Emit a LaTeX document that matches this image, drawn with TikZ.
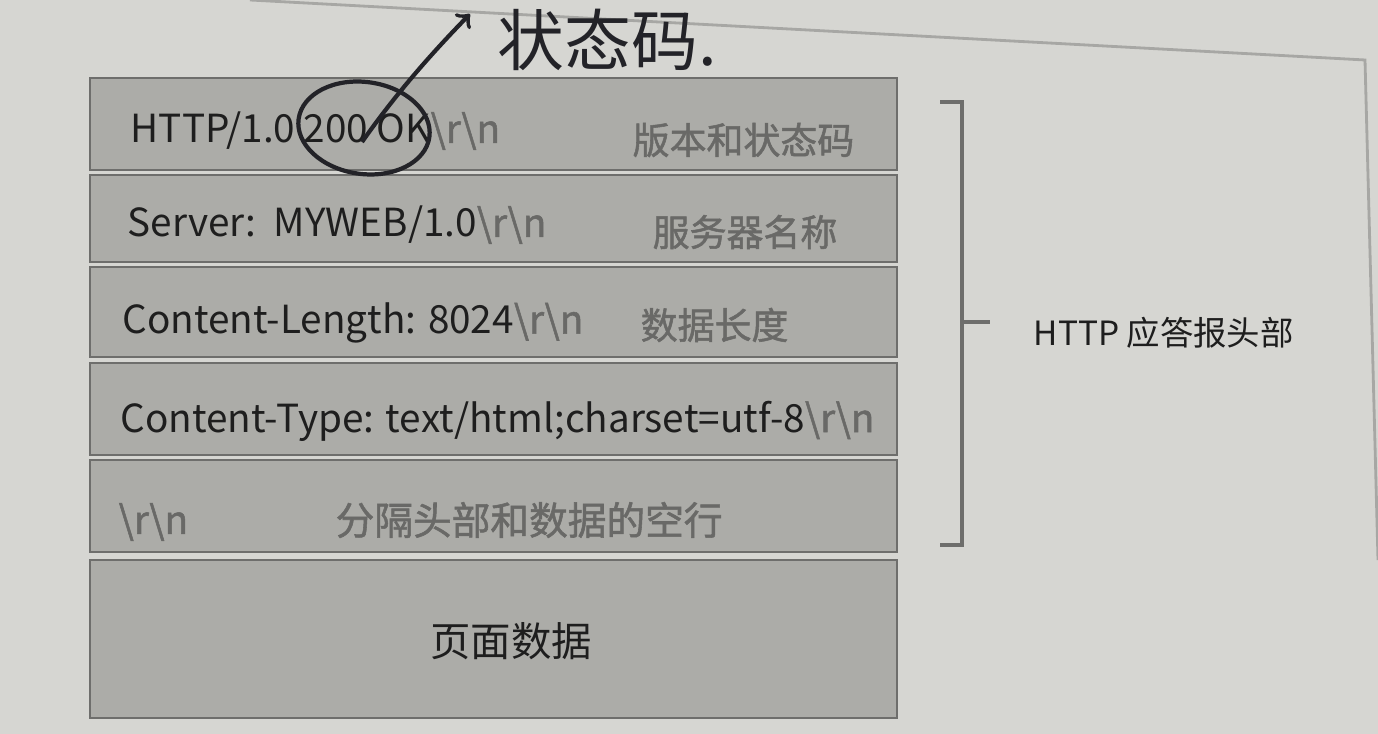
\documentclass[tikz,border=0pt]{standalone}
\usepackage{fontspec}
\setmainfont{Noto Sans CJK SC}
\newfontfamily\notefont[FakeBold=1.4]{Noto Sans CJK SC}
\usepackage{tikz}

\definecolor{paper}{RGB}{214,214,210}
\definecolor{boxfill}{RGB}{172,172,168}
\definecolor{boxline}{RGB}{110,110,108}
\definecolor{softtext}{RGB}{105,105,103}
\definecolor{inktext}{RGB}{30,30,30}
\definecolor{pen}{RGB}{35,35,40}

\newcommand{\crlf}{{\notefont\textcolor{softtext}{\textbackslash r\textbackslash n}}}

\tikzset{
  rowbox/.style={draw=boxline, fill=boxfill, line width=0.6pt, minimum width=8.07cm, inner sep=0pt},
  linetext/.style={anchor=west, inner sep=0pt, text=inktext, font=\fontsize{11}{13}\selectfont},
  notetext/.style={anchor=west, inner sep=0pt, text=softtext, font=\notefont\fontsize{10.5}{13}\selectfont},
  handnote/.style={inner sep=0pt, text=pen, font=\fontsize{19}{22}\selectfont},
}

\begin{document}
\begin{tikzpicture}[x=0.01cm, y=-0.01cm]
  \useasboundingbox[fill=paper] (0,0) rectangle (1378,734);
  % edge of the page
  \draw[boxline!45!paper, line width=0.8pt] (250,0) -- (1365,60) -- (1378,560);

  % the six rows of the answer
  \node[rowbox, minimum height=0.92cm] (status) at (493.5,124) {};
  \node[rowbox, minimum height=0.87cm] (server) at (493.5,218.5) {};
  \node[rowbox, minimum height=0.90cm] (length) at (493.5,312) {};
  \node[rowbox, minimum height=0.92cm] (ctype) at (493.5,409) {};
  \node[rowbox, minimum height=0.92cm] (blank) at (493.5,506) {};
  \node[rowbox, minimum height=1.58cm] (body) at (493.5,639) {};

  \node[linetext] (statusline) at (130,131) {HTTP/1.0 200 OK\crlf};
  \node[notetext] (statusnote) at (632,140) {版本和状态码};
  \node[linetext] (serverline) at (127,225) {Server:\ \ MYWEB/1.0\crlf};
  \node[notetext] (servernote) at (652,232) {服务器名称};
  \node[linetext] (lengthline) at (122,323) {Content-Length: 8024\crlf};
  \node[notetext] (lengthnote) at (640,325) {数据长度};
  \node[linetext] (ctypeline) at (120,421) {Content-Type: text/html;charset=utf-8\crlf};
  \node[linetext] (blankline) at (118,522) {\crlf};
  \node[notetext, font=\notefont\fontsize{11}{13}\selectfont] (blanknote) at (335,520) {分隔头部和数据的空行};
  \node[linetext, anchor=center, font=\fontsize{11.5}{13}\selectfont] (bodyline) at (511,641) {页面数据};

  % bracket over the header rows
  \coordinate (brtop) at (940,102);
  \coordinate (brbot) at (940,545);
  \coordinate (brmid) at (962,322);
  \draw[boxline, line width=1pt] (brtop) -- (962,102) -- (962,545) -- (brbot);
  \draw[boxline, line width=1pt] (brmid) -- (990,322);
  \node[linetext, font=\fontsize{9.5}{12}\selectfont] (headlabel) at (1033,333) {HTTP 应答报头部};

  % handwritten mark
  \draw[pen, line width=1.2pt, rotate around={-8:(364,128)}] (364,128) ellipse [x radius=66, y radius=46];
  \coordinate (penstart) at (362,142);
  \node[handnote, anchor=west] (penlabel) at (497,40) {状态码.};
  \draw[pen, line width=1.2pt, ->] (penstart) .. controls (395,95) and (430,55) .. (470,14);
\end{tikzpicture}
\end{document}
